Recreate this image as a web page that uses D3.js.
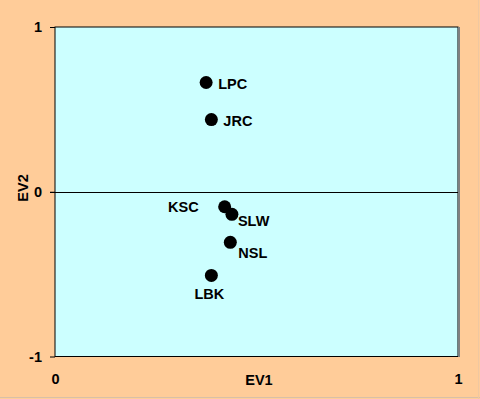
<!DOCTYPE html>
<html><head><meta charset="utf-8">
<script src="https://cdn.jsdelivr.net/npm/d3@7"></script>
<style>
html,body{margin:0;padding:0;background:#FFCC99;}
svg{display:block;}
text{font-family:Arial,"Liberation Sans",sans-serif;font-weight:bold;fill:#000;}
</style></head>
<body>
<svg id="chart" width="480" height="399"></svg>
<script>
const sites = ["LPC","JRC","KSC","SLW","NSL","LBK"];
const ev1 = [0.375,0.388,0.421,0.439,0.435,0.388];
const ev2 = [0.663,0.438,-0.091,-0.137,-0.307,-0.508];
const xTicks = [0,1];
const yTicks = [-1,0,1];
const xTitle = "EV1", yTitle = "EV2";

// label placement (style, not data)
const labelPos = {
  LPC:{dx:12,dy:6,anchor:"start"},
  JRC:{dx:12,dy:6,anchor:"start"},
  KSC:{dx:-26,dy:5,anchor:"end"},
  SLW:{dx:6,dy:12,anchor:"start"},
  NSL:{dx:8,dy:16,anchor:"start"},
  LBK:{dx:-2,dy:24,anchor:"middle"}
};
const FS = "14.5px";

const svg = d3.select("#chart");
const W=480,H=399;
const L=55,R=458,T=27,B=356.5;
const x = d3.scaleLinear().domain([0,1]).range([L,R]);
const y = d3.scaleLinear().domain([-1,1]).range([B,T]);

svg.append("rect").attr("x",0).attr("y",0).attr("width",W).attr("height",H).attr("fill","#FFCC99");
svg.append("line").attr("x1",0).attr("x2",W).attr("y1",H-1.5).attr("y2",H-1.5).attr("stroke","#d8c0a8").attr("stroke-width",1);
svg.append("line").attr("x1",W-1.5).attr("x2",W-1.5).attr("y1",0).attr("y2",H).attr("stroke","#f0c8a0").attr("stroke-width",1);

// plot area
svg.append("rect").attr("x",L).attr("y",T).attr("width",R-L).attr("height",B-T)
  .attr("fill","#CCFFFF").attr("stroke","#000").attr("stroke-width",1);
svg.append("line").attr("x1",R+1).attr("x2",R+1).attr("y1",T).attr("y2",B+0.5)
  .attr("stroke","#808080").attr("stroke-width",2);

// zero line
svg.append("line").attr("x1",L-5).attr("x2",R).attr("y1",Math.round(y(0))+0.5).attr("y2",Math.round(y(0))+0.5)
  .attr("stroke","#000").attr("stroke-width",1);

// y axis
const ya = svg.append("g").attr("transform",`translate(${L},0)`)
  .call(d3.axisLeft(y).tickValues(yTicks).tickSize(5).tickPadding(8).tickFormat(d=>String(d)));
ya.select(".domain").remove();
ya.selectAll("text").style("font-size",FS).attr("font-family","Arial, Liberation Sans, sans-serif").attr("font-weight","bold").attr("fill","#000");
ya.selectAll("line").attr("stroke","#000");

// x axis
const xa = svg.append("g").attr("transform",`translate(0,366)`)
  .call(d3.axisBottom(x).tickValues(xTicks).tickSize(0).tickPadding(8).tickFormat(d=>String(d)));
xa.select(".domain").remove();
xa.selectAll("text").style("font-size",FS).attr("font-family","Arial, Liberation Sans, sans-serif").attr("font-weight","bold").attr("fill","#000");

// titles
svg.append("text").attr("x",259).attr("y",385).attr("text-anchor","middle").style("font-size",FS).text(xTitle);
svg.append("text").attr("transform","translate(28,188) rotate(-90)").attr("text-anchor","middle").style("font-size",FS).text(yTitle);

// points
const data = sites.map((s,i)=>({name:s,x:ev1[i],y:ev2[i]}));
svg.append("g").selectAll("circle").data(data).join("circle")
  .attr("cx",d=>x(d.x)).attr("cy",d=>y(d.y)).attr("r",6.5).attr("fill","#000");
svg.append("g").selectAll("text").data(data).join("text")
  .attr("x",d=>x(d.x)+labelPos[d.name].dx).attr("y",d=>y(d.y)+labelPos[d.name].dy)
  .attr("text-anchor",d=>labelPos[d.name].anchor).style("font-size",FS).text(d=>d.name);
</script>
</body></html>
